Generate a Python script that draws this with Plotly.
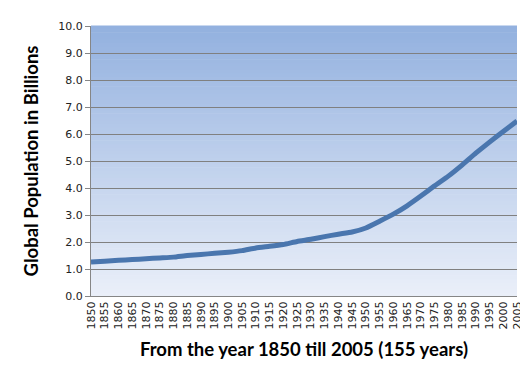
import plotly.graph_objects as go

years = list(range(1850, 2010, 5))
population = [1.26, 1.29, 1.32, 1.35, 1.38, 1.41, 1.44, 1.50, 1.54, 1.58,
              1.62, 1.68, 1.78, 1.84, 1.91, 2.02, 2.10, 2.20, 2.29, 2.37,
              2.52, 2.77, 3.03, 3.34, 3.70, 4.08, 4.44, 4.85, 5.29, 5.70,
              6.09, 6.48]
y_ticks = [i * 1.0 for i in range(11)]
y_tick_labels = [f"{v:.1f}" for v in y_ticks]

fig = go.Figure()
fig.add_trace(go.Scatter(x=years, y=population, mode="lines",
                         line=dict(color="#4A76AE", width=5, shape="spline", smoothing=0.4),
                         showlegend=False, hoverinfo="x+y"))

# vertical gradient background for the plot area
top = (147, 177, 223)
bot = (234, 239, 249)
n = 80
shapes = []
for i in range(n):
    t = i / (n - 1)
    c = tuple(round(bot[k] + (top[k] - bot[k]) * t) for k in range(3))
    shapes.append(dict(type="rect", xref="x domain", yref="y domain",
                       x0=0, x1=1, y0=i / n, y1=(i + 1) / n + 0.002,
                       fillcolor=f"rgb{c}", line=dict(width=0), layer="below"))

fig.update_layout(
    width=528, height=375,
    margin=dict(l=83, r=12, t=12, b=87),
    paper_bgcolor="white", plot_bgcolor="white",
    shapes=shapes,
    xaxis=dict(range=[1850, 2005], tickmode="array", tickvals=years,
               ticktext=[str(y) for y in years], tickangle=-90,
               tickfont=dict(family="DejaVu Sans", size=11, color="#222"),
               showgrid=False, showline=True, linecolor="#868686", linewidth=1,
               ticks="", zeroline=False,
               title=dict(text="<b>From the year 1850 till 2005 (155 years)</b>",
                          font=dict(family="Lato", size=18.5, color="black"), standoff=14)),
    yaxis=dict(range=[0, 10], tickmode="array", tickvals=y_ticks, ticktext=y_tick_labels,
               tickfont=dict(family="DejaVu Sans", size=11, color="#222"),
               showgrid=True, gridcolor="#808080", gridwidth=1,
               showline=True, linecolor="#868686", linewidth=1,
               ticks="outside", ticklen=5, tickcolor="#868686", zeroline=False,
               title=dict(text="<b>Global Population in Billions</b>",
                          font=dict(family="Lato", size=18.5, color="black"), standoff=14)),
)

fig.write_html("out.html")
